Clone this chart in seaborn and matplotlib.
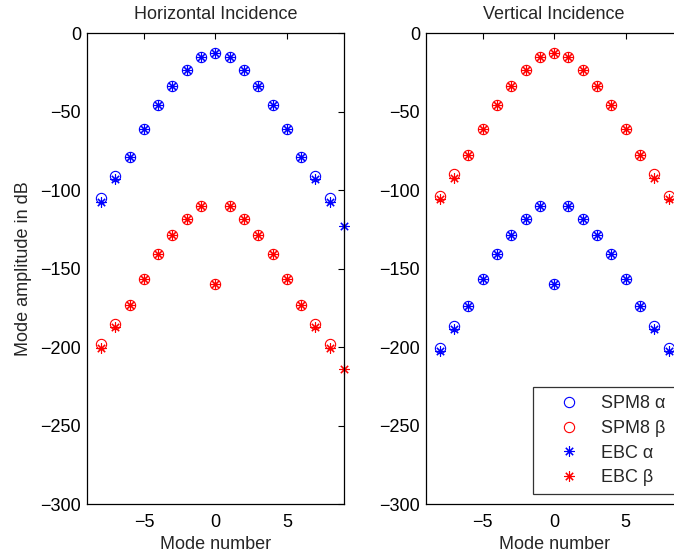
import matplotlib
matplotlib.use("Agg")
import matplotlib.pyplot as plt
from matplotlib.lines import Line2D
import seaborn as sns

# ---- data ----
modes = [-8, -7, -6, -5, -4, -3, -2, -1, 0, 1, 2, 3, 4, 5, 6, 7, 8]
modes_ebc_h = [-8, -7, -6, -5, -4, -3, -2, -1, 0, 1, 2, 3, 4, 5, 6, 7, 8, 9]

# Horizontal incidence
h_spm_alpha = [-105.2, -91.0, -78.6, -61.2, -45.7, -33.4, -23.4, -15.3, -12.7,
               -15.3, -23.4, -33.4, -45.7, -61.2, -78.6, -91.0, -105.2]
h_ebc_alpha = [-107.3, -93.0, -78.6, -61.2, -45.7, -33.4, -23.4, -15.3, -12.7,
               -15.3, -23.4, -33.4, -45.7, -61.2, -78.6, -93.0, -107.3, -122.6]
h_spm_beta = [-198.2, -185.3, -173.2, -156.4, -140.9, -128.6, -118.4, -110.1, -160.0,
              -110.1, -118.4, -128.6, -140.9, -156.4, -173.2, -185.3, -198.2]
h_ebc_beta = [-200.4, -187.0, -173.2, -156.4, -140.9, -128.6, -118.4, -110.1, -160.0,
              -110.1, -118.4, -128.6, -140.9, -156.4, -173.2, -187.0, -200.4, -213.8]

# Vertical incidence
v_spm_alpha = [-200.4, -186.3, -173.8, -156.4, -140.9, -128.6, -118.4, -110.3, -160.0,
               -110.3, -118.4, -128.6, -140.9, -156.4, -173.8, -186.3, -200.4]
v_ebc_alpha = [-202.5, -188.5, -173.8, -156.4, -140.9, -128.6, -118.4, -110.3, -160.0,
               -110.3, -118.4, -128.6, -140.9, -156.4, -173.8, -188.5, -202.5]
v_spm_beta = [-103.5, -89.9, -77.8, -61.0, -45.7, -33.4, -23.4, -15.3, -12.7,
              -15.3, -23.4, -33.4, -45.7, -61.0, -77.8, -89.9, -103.5]
v_ebc_beta = [-105.6, -92.0, -77.8, -61.0, -45.7, -33.4, -23.4, -15.3, -12.7,
              -15.3, -23.4, -33.4, -45.7, -61.0, -77.8, -92.0, -105.6]

titles = ["Horizontal Incidence", "Vertical Incidence"]
legend_labels = ["SPM8 \u03b1", "SPM8 \u03b2", "EBC \u03b1", "EBC \u03b2"]
yticks = [0, -50, -100, -150, -200, -250, -300]
xticks = [-5, 0, 5]

# ---- style ----
sns.set_style("white")
plt.rcParams["font.family"] = ["Liberation Sans", "DejaVu Sans"]
plt.rcParams["font.size"] = 13

BLUE = (0, 0, 1)
RED = (1, 0, 0)
ASTER = (8, 2, 0)
MS = 7.4
MEW = 0.8

fig = plt.figure(figsize=(6.74, 5.59), dpi=100)
ax1 = fig.add_axes([86.7 / 674, 1 - 504 / 559, 257.3 / 674, 470.7 / 559])
ax2 = fig.add_axes([425.5 / 674, 1 - 504 / 559, 257.3 / 674, 470.7 / 559])


def draw(ax, x, y, color, marker):
    sns.lineplot(x=x, y=y, ax=ax, color=color, marker=marker, linestyle="none",
                 markersize=MS, markerfacecolor="none", markeredgecolor=color,
                 markeredgewidth=MEW, estimator=None, sort=False, clip_on=False)


draw(ax1, modes, h_spm_alpha, BLUE, "o")
draw(ax1, modes, h_spm_beta, RED, "o")
draw(ax1, modes_ebc_h, h_ebc_alpha, BLUE, ASTER)
draw(ax1, modes_ebc_h, h_ebc_beta, RED, ASTER)

draw(ax2, modes, v_spm_alpha, BLUE, "o")
draw(ax2, modes, v_spm_beta, RED, "o")
draw(ax2, modes, v_ebc_alpha, BLUE, ASTER)
draw(ax2, modes, v_ebc_beta, RED, ASTER)

for ax, t in zip([ax1, ax2], titles):
    ax.set_xlim(-9, 9)
    ax.set_ylim(-300, 0)
    ax.set_xticks(xticks)
    ax.set_yticks(yticks)
    ax.set_title(t, fontsize=13, pad=10)
    ax.set_xlabel("Mode number", fontsize=13, labelpad=4)
    ax.set_ylabel("")
    ax.tick_params(direction="in", length=4, width=0.8, top=True, right=True,
                   labelsize=13, colors="black", pad=4)
    ax.tick_params(axis="x", pad=7)
    for s in ax.spines.values():
        s.set_visible(True)
        s.set_color("black")
        s.set_linewidth(0.9)

ax1.set_ylabel("Mode amplitude in dB", fontsize=13, labelpad=6)

handles = [
    Line2D([], [], linestyle="none", marker="o", markersize=MS, markerfacecolor="none",
           markeredgecolor=BLUE, markeredgewidth=MEW),
    Line2D([], [], linestyle="none", marker="o", markersize=MS, markerfacecolor="none",
           markeredgecolor=RED, markeredgewidth=MEW),
    Line2D([], [], linestyle="none", marker=ASTER, markersize=MS,
           markeredgecolor=BLUE, markeredgewidth=MEW),
    Line2D([], [], linestyle="none", marker=ASTER, markersize=MS,
           markeredgecolor=RED, markeredgewidth=MEW),
]
x0 = 532.7 / 674
y_top = 1 - 387.3 / 559
leg = fig.legend(handles, legend_labels, loc="upper left",
                 bbox_to_anchor=(x0, y_top - 0.3, 700 / 674 - x0, 0.3),
                 mode="expand",
                 frameon=True, fancybox=False, fontsize=13,
                 borderpad=0.45, labelspacing=0.42, handletextpad=0.25,
                 handlelength=3.1, borderaxespad=0)
leg.get_frame().set_edgecolor("black")
leg.get_frame().set_linewidth(0.9)

fig.savefig("out.png", dpi=100)
